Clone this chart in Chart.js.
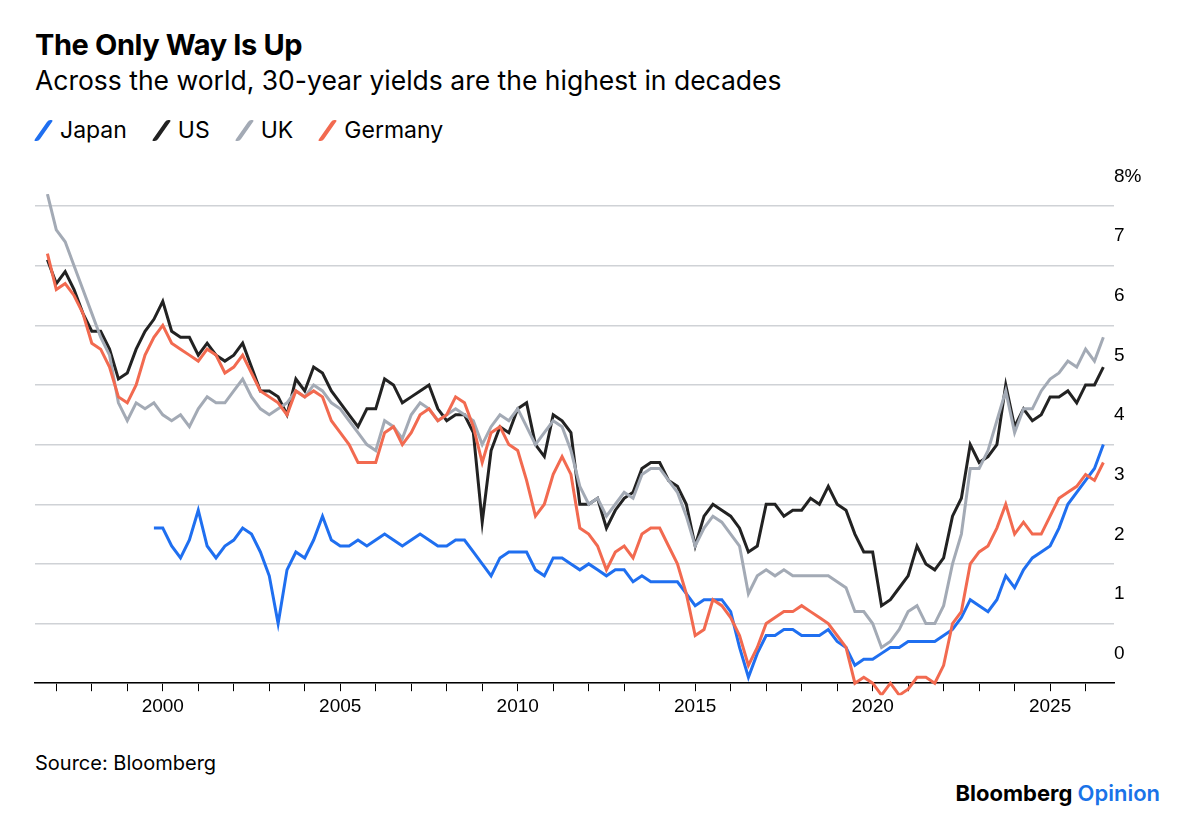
<!DOCTYPE html>
<html>
<head>
<meta charset="utf-8">
<script src="https://cdn.jsdelivr.net/npm/chart.js@4"></script>
<style>
  body { margin: 0; background: #fff; font-family: Inter, "Noto Sans", sans-serif; color: #000; }
  #wrap { position: relative; width: 1196px; height: 838px; }
  h1 { position: absolute; left: 35px; top: 27px; margin: 0; font-size: 29px; font-weight: 700; letter-spacing: -0.4px; }
  h2 { position: absolute; left: 35px; top: 64px; margin: 0; font-size: 26.5px; font-weight: 400; }
  #legend { position: absolute; left: 35px; top: 116px; font-size: 23px; display: flex; gap: 26px; }
  #legend span.k { display: inline-block; width: 5px; height: 21px; transform: skewX(-35deg); margin: 0 14px -3px 6px; border-radius: 2px; }
  #chartBox { position: absolute; left: 0; top: 150px; width: 1196px; height: 572px; }
  #source { position: absolute; left: 35px; top: 751px; font-size: 20px; }
  #brand { position: absolute; right: 36px; top: 780px; font-size: 22px; font-weight: 700; }
  #brand b { color: #1a73e8; font-weight: 600; }
</style>
</head>
<body>
<div id="wrap">
  <h1>The Only Way Is Up</h1>
  <h2>Across the world, 30-year yields are the highest in decades</h2>
  <div id="legend">
    <div><span class="k" style="background:#1f6ff0"></span>Japan</div>
    <div><span class="k" style="background:#222"></span>US</div>
    <div><span class="k" style="background:#a3aab5"></span>UK</div>
    <div><span class="k" style="background:#f26a50"></span>Germany</div>
  </div>
  <div id="chartBox"><canvas id="myChart"></canvas></div>
  <div id="source">Source: Bloomberg</div>
  <div id="brand">Bloomberg <b>Opinion</b></div>
</div>
<script>
// quarterly readings
var startAll = 1996.75;
var startJapan = 1999.75;
var us = [7.1,6.7,6.9,6.6,6.2,5.9,5.9,5.6,5.1,5.2,5.6,5.9,6.1,6.4,5.9,5.8,5.8,5.5,5.7,5.5,5.4,5.5,5.7,5.3,4.9,4.9,4.8,4.5,5.1,4.9,5.3,5.2,4.9,4.7,4.5,4.3,4.6,4.6,5.1,5.0,4.7,4.8,4.9,5.0,4.6,4.4,4.5,4.5,4.2,2.7,3.9,4.3,4.2,4.6,4.7,4.0,3.8,4.5,4.4,4.2,3.0,3.0,3.1,2.6,2.9,3.1,3.2,3.6,3.7,3.7,3.4,3.3,3.0,2.3,2.8,3.0,2.9,2.8,2.6,2.2,2.3,3.0,3.0,2.8,2.9,2.9,3.1,3.0,3.3,3.0,2.9,2.5,2.2,2.2,1.3,1.4,1.6,1.8,2.3,2.0,1.9,2.1,2.8,3.1,4.0,3.7,3.8,4.0,5.0,4.3,4.6,4.4,4.5,4.8,4.8,4.9,4.7,5.0,5.0,5.3];
var uk = [8.2,7.6,7.4,7.0,6.6,6.2,5.8,5.5,4.7,4.4,4.7,4.6,4.7,4.5,4.4,4.5,4.3,4.6,4.8,4.7,4.7,4.9,5.1,4.8,4.6,4.5,4.6,4.7,4.9,4.8,5.0,4.9,4.7,4.6,4.4,4.2,4.0,3.9,4.4,4.3,4.1,4.5,4.7,4.6,4.4,4.5,4.6,4.5,4.4,4.0,4.3,4.5,4.4,4.6,4.3,4.0,4.2,4.4,4.3,3.9,3.3,3.0,3.1,2.8,3.0,3.2,3.1,3.5,3.6,3.6,3.4,3.2,2.8,2.3,2.6,2.8,2.7,2.5,2.3,1.5,1.8,1.9,1.8,1.9,1.8,1.8,1.8,1.8,1.8,1.7,1.6,1.2,1.2,1.0,0.6,0.7,0.9,1.2,1.3,1.0,1.0,1.3,2.0,2.5,3.6,3.6,3.9,4.4,4.9,4.2,4.6,4.6,4.9,5.1,5.2,5.4,5.3,5.6,5.4,5.8];
var germany = [7.2,6.6,6.7,6.5,6.2,5.7,5.6,5.3,4.8,4.7,5.0,5.5,5.8,6.0,5.7,5.6,5.5,5.4,5.6,5.5,5.2,5.3,5.5,5.2,4.9,4.8,4.7,4.5,4.9,4.8,4.9,4.8,4.4,4.2,4.0,3.7,3.7,3.7,4.2,4.3,4.0,4.2,4.5,4.6,4.4,4.5,4.8,4.7,4.3,3.7,4.2,4.3,4.0,3.9,3.4,2.8,3.0,3.5,3.8,3.5,2.6,2.5,2.3,1.9,2.2,2.3,2.1,2.5,2.6,2.6,2.3,2.0,1.5,0.8,0.9,1.4,1.3,1.1,0.8,0.3,0.6,1.0,1.1,1.2,1.2,1.3,1.2,1.1,1.0,0.8,0.6,0.0,0.1,0.0,-0.2,0.0,-0.2,-0.1,0.1,0.1,0.0,0.3,1.0,1.2,2.0,2.2,2.3,2.6,3.0,2.5,2.7,2.5,2.5,2.8,3.1,3.2,3.3,3.5,3.4,3.7];
var japan = [2.6,2.6,2.3,2.1,2.4,2.9,2.3,2.1,2.3,2.4,2.6,2.5,2.2,1.8,1.0,1.9,2.2,2.1,2.4,2.8,2.4,2.3,2.3,2.4,2.3,2.4,2.5,2.4,2.3,2.4,2.5,2.4,2.3,2.3,2.4,2.4,2.2,2.0,1.8,2.1,2.2,2.2,2.2,1.9,1.8,2.1,2.1,2.0,1.9,2.0,1.9,1.8,1.9,1.9,1.7,1.8,1.7,1.7,1.7,1.7,1.5,1.3,1.4,1.4,1.4,1.2,0.6,0.1,0.5,0.8,0.8,0.9,0.9,0.8,0.8,0.8,0.9,0.7,0.6,0.3,0.4,0.4,0.5,0.6,0.6,0.7,0.7,0.7,0.7,0.8,0.9,1.1,1.4,1.3,1.2,1.4,1.8,1.6,1.9,2.1,2.2,2.3,2.6,3.0,3.2,3.4,3.6,4.0];
var yTicks = [0, 1, 2, 3, 4, 5, 6, 7, 8];

function toPoints(start, vals) {
  return vals.map(function (v, i) { return { x: start + i * 0.25, y: v }; });
}
function line(label, color, start, vals) {
  return { label: label, data: toPoints(start, vals), borderColor: color, borderWidth: 3,
           pointRadius: 0, tension: 0, fill: false, clip: 12 };
}

var ctx = document.getElementById('myChart').getContext('2d');
var myChart = new Chart(ctx, {
  type: 'line',
  data: {
    datasets: [
      line('Germany', '#f26a50', startAll, germany),
      line('UK', '#a3aab5', startAll, uk),
      line('US', '#222222', startAll, us),
      line('Japan', '#1f6ff0', startJapan, japan)
    ]
  },
  options: {
    responsive: true,
    maintainAspectRatio: false,
    animation: false,
    layout: { padding: { left: 35, right: 32, top: 56, bottom: 0 } },
    plugins: { legend: { display: false }, tooltip: { enabled: false } },
    scales: {
      x: {
        type: 'linear',
        min: 1996.4,
        max: 2026.8,
        afterBuildTicks: function (axis) {
          var t = [];
          for (var y = 1997; y <= 2026; y++) t.push({ value: y });
          axis.ticks = t;
        },
        ticks: {
          autoSkip: false, maxRotation: 0, color: '#000', font: { size: 19 }, padding: 4,
          callback: function (v) { return v % 5 === 0 ? String(v) : ''; }
        },
        grid: { drawOnChartArea: false, tickLength: 8, color: '#000' },
        border: { color: '#000', width: 1.5 }
      },
      y: {
        position: 'right',
        min: 0,
        max: 8,
        afterBuildTicks: function (axis) {
          axis.ticks = yTicks.map(function (v) { return { value: v }; });
        },
        ticks: {
          color: '#000', font: { size: 19 }, align: 'end', labelOffset: -20, padding: 0,
          callback: function (v) { return v === 8 ? '8%' : String(v); }
        },
        grid: { color: '#cfd2d6', lineWidth: 1.5, drawTicks: false },
        border: { display: false },
        afterFit: function (axis) { axis.width = 50; }
      }
    }
  }
});
</script>
</body>
</html>
